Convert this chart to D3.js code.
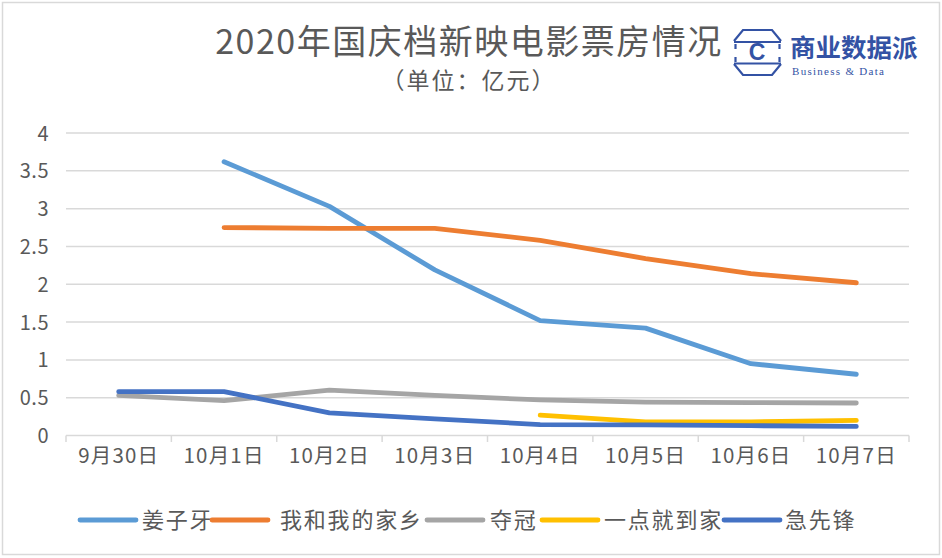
<!DOCTYPE html>
<html><head><meta charset="utf-8">
<script src="https://cdn.jsdelivr.net/npm/d3@7"></script>
<style>html,body{margin:0;padding:0;background:#fff;}svg{display:block;}</style>
</head><body>
<svg id="chart" width="942" height="558"></svg>
<script>
const categories = ["9月30日","10月1日","10月2日","10月3日","10月4日","10月5日","10月6日","10月7日"];
const seriesNames = ["姜子牙","我和我的家乡","夺冠","一点就到家","急先锋"];
const jiangziya = [null, 3.62, 3.03, 2.19, 1.52, 1.42, 0.95, 0.81];
const jiaxiang  = [null, 2.75, 2.74, 2.74, 2.58, 2.34, 2.14, 2.02];
const duoguan   = [0.53, 0.46, 0.60, 0.53, 0.47, 0.44, 0.435, 0.43];
const yidian    = [null, null, null, null, 0.27, 0.18, 0.18, 0.20];
const jixianfeng= [0.58, 0.58, 0.30, 0.22, 0.145, 0.14, 0.13, 0.12];
const yTicks = [0, 0.5, 1, 1.5, 2, 2.5, 3, 3.5, 4];
const colors = ["#5b9bd5","#ed7d31","#a5a5a5","#ffc000","#4472c4"];
const seriesValues = [jiangziya, jiaxiang, duoguan, yidian, jixianfeng];

const svg = d3.select("#chart");
const font = "'Noto Sans CJK SC','Noto Sans',sans-serif";
const textColor = "#595959";

// chart frame
svg.append("rect").attr("x",2.5).attr("y",2.5).attr("width",937).attr("height",552)
  .attr("fill","#fff").attr("stroke","#d9d9d9").attr("stroke-width",1.5);

const x = d3.scaleBand().domain(categories).range([66, 909]).padding(0);
const y = d3.scaleLinear().domain([0, 4]).range([435.5, 133]);

// gridlines
svg.append("g").selectAll("line").data(yTicks.filter(d=>d>0)).join("line")
  .attr("x1",66).attr("x2",909).attr("y1",d=>y(d)).attr("y2",d=>y(d))
  .attr("stroke","#d9d9d9").attr("stroke-width",1.5);

// y axis labels
const yAxis = d3.axisLeft(y).tickValues(yTicks).tickSize(0).tickPadding(0).tickFormat(d3.format("~g"));
const yg = svg.append("g").attr("transform","translate(49,0)").call(yAxis);
yg.select(".domain").remove();
yg.selectAll("text").attr("font-family",font).attr("font-size",20).attr("fill",textColor).attr("dy","0.35em")
  .attr("letter-spacing",0.5);

// x axis
const xAxis = d3.axisBottom(x).tickSize(0).tickPadding(0);
const xg = svg.append("g").attr("transform","translate(0,435.5)").call(xAxis);
xg.select(".domain").attr("stroke","#d9d9d9").attr("stroke-width",1.5).attr("d","M66,0H909");
xg.selectAll(".tick line").remove();
xg.selectAll("text").attr("font-family",font).attr("font-size",20.5).attr("fill",textColor).attr("y",20).attr("dy","0.35em")
  .attr("letter-spacing",1.2);
// category boundary ticks
const bounds = categories.map(c=>x(c)).concat([x(categories[categories.length-1])+x.bandwidth()]);
svg.append("g").selectAll("line").data(bounds).join("line")
  .attr("x1",d=>d).attr("x2",d=>d).attr("y1",435.5).attr("y2",442)
  .attr("stroke","#d9d9d9").attr("stroke-width",1.5);

// lines
const line = d3.line()
  .defined(d=>d.v!=null)
  .x(d=>x(d.c)+x.bandwidth()/2)
  .y(d=>y(d.v));
seriesValues.forEach((vals,i)=>{
  const data = vals.map((v,j)=>({c:categories[j], v}));
  svg.append("path").datum(data).attr("d",line)
    .attr("fill","none").attr("stroke",colors[i]).attr("stroke-width",4.8)
    .attr("stroke-linecap","round").attr("stroke-linejoin","round");
});

// title
svg.append("text").attr("x",469).attr("y",54).attr("text-anchor","middle")
  .attr("font-family",font).attr("font-size",34).attr("fill",textColor).attr("letter-spacing",1.5)
  .text("2020年国庆档新映电影票房情况");
svg.append("text").attr("x",469).attr("y",89).attr("text-anchor","middle")
  .attr("font-family",font).attr("font-size",23).attr("fill",textColor).attr("letter-spacing",2)
  .text("（单位：亿元）");

// legend
const legendItems = [
  {sx:80, tx:142},
  {sx:212, tx:280},
  {sx:427, tx:490},
  {sx:542, tx:604},
  {sx:724, tx:785}
];
const lg = svg.append("g");
seriesNames.forEach((n,i)=>{
  const it = legendItems[i];
  lg.append("line").attr("x1",it.sx).attr("x2",it.sx+56).attr("y1",520).attr("y2",520)
    .attr("stroke",colors[i]).attr("stroke-width",4.8).attr("stroke-linecap","round");
  lg.append("text").attr("x",it.tx).attr("y",520).attr("dy","0.35em")
    .attr("font-family",font).attr("font-size",22).attr("fill",textColor).attr("letter-spacing",1.8).text(n);
});

// logo
const logoColor = "#3352a4";
const lo = svg.append("g").attr("fill","none").attr("stroke",logoColor).attr("stroke-width",2.2);
lo.append("path").attr("d","M734,41 L743,30 L772,30 L781,41");
lo.append("path").attr("d","M734,42 H781");
lo.append("path").attr("d","M735.5,44 V49 M779.5,44 V49 M735.5,57 V62 M779.5,57 V62");
lo.append("path").attr("d","M734,63.5 H781");
lo.append("path").attr("d","M734,64 L743,75 L772,75 L781,64");
svg.append("text").attr("x",757).attr("y",60).attr("text-anchor","middle")
  .attr("font-family","'Liberation Sans',Arial,sans-serif").attr("font-weight","bold")
  .attr("font-size",23).attr("fill",logoColor).text("C");
svg.append("text").attr("x",790).attr("y",57).attr("font-family",font).attr("font-weight","bold")
  .attr("font-size",25.5).attr("fill",logoColor).text("商业数据派");
svg.append("text").attr("x",792).attr("y",75).attr("font-family","'Liberation Serif','DejaVu Serif',serif")
  .attr("font-size",11).attr("fill",logoColor).attr("textLength",92).attr("lengthAdjust","spacing")
  .text("Business & Data");
</script>
</body></html>
